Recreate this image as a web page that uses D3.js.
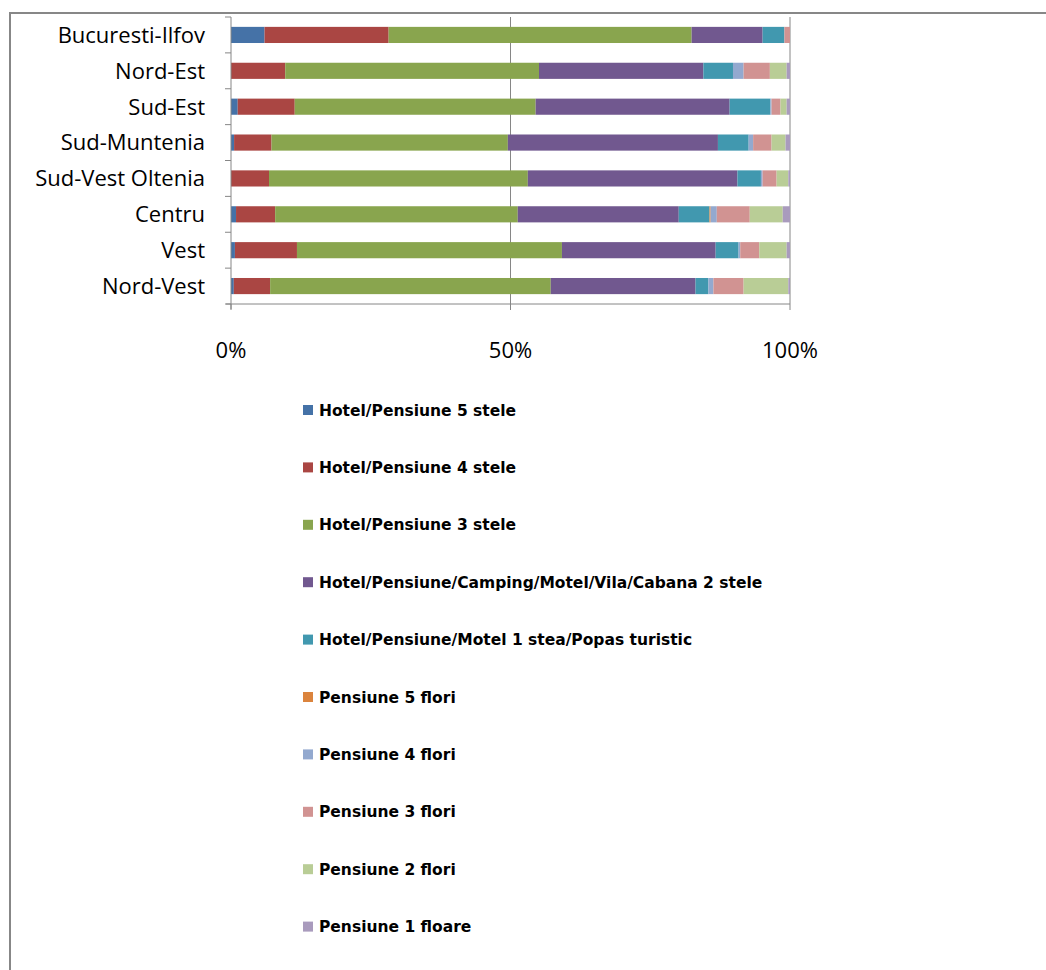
<!DOCTYPE html>
<html><head><meta charset="utf-8">
<script src="https://cdn.jsdelivr.net/npm/d3@7"></script>
<style>body{margin:0;background:#fff}svg{display:block}</style>
</head><body>
<script>
const categories = ["Bucuresti-Ilfov","Nord-Est","Sud-Est","Sud-Muntenia","Sud-Vest Oltenia","Centru","Vest","Nord-Vest"];
const seriesNames = ["Hotel/Pensiune 5 stele","Hotel/Pensiune 4 stele","Hotel/Pensiune 3 stele","Hotel/Pensiune/Camping/Motel/Vila/Cabana 2 stele","Hotel/Pensiune/Motel 1 stea/Popas turistic","Pensiune 5 flori","Pensiune 4 flori","Pensiune 3 flori","Pensiune 2 flori","Pensiune 1 floare"];
const colors = ["#4572A7","#AA4643","#89A54E","#71588F","#4198AF","#DB843D","#93A9CF","#D19392","#B9CD96","#A99BBD"];
// values per series, in order of categories (percent)
const s5stele  = [6.0, 0.0, 1.2, 0.55, 0.0, 0.9, 0.7, 0.5];
const s4stele  = [22.2, 9.7, 10.2, 6.7, 6.8, 7.0, 11.1, 6.5];
const s3stele  = [54.2, 45.4, 43.1, 42.3, 46.3, 43.4, 47.4, 50.2];
const s2stele  = [12.7, 29.4, 34.7, 37.6, 37.5, 28.8, 27.5, 25.9];
const s1stea   = [3.9, 5.3, 7.3, 5.5, 4.2, 5.5, 4.1, 2.3];
const s5flori  = [0.0, 0.0, 0.0, 0.0, 0.0, 0.2, 0.0, 0.0];
const s4flori  = [0.0, 1.9, 0.2, 0.8, 0.3, 1.1, 0.3, 0.9];
const s3flori  = [1.0, 4.7, 1.6, 3.3, 2.5, 5.9, 3.4, 5.4];
const s2flori  = [0.0, 3.0, 1.1, 2.5, 2.1, 5.9, 4.9, 8.0];
const s1floare = [0.0, 0.6, 0.6, 0.8, 0.3, 1.3, 0.6, 0.3];
const xTicks = [0, 0.5, 1];
const xTickLabels = ["0%","50%","100%"];

const allSeries = [s5stele,s4stele,s3stele,s2stele,s1stea,s5flori,s4flori,s3flori,s2flori,s1floare];
const rows = categories.map((c,i)=>{
  const o = {cat:c};
  const tot = d3.sum(allSeries, s=>s[i]);
  seriesNames.forEach((n,j)=>o[n]=allSeries[j][i]/tot);
  return o;
});
const stack = d3.stack().keys(seriesNames)(rows);

const W=1046,H=970;
const svg = d3.select("body").append("svg").attr("width",W).attr("height",H);
svg.append("rect").attr("x",10).attr("y",13).attr("width",W).attr("height",H)
  .attr("fill","#fff").attr("stroke","#878787").attr("stroke-width",2);

const x = d3.scaleLinear().domain([0,1]).range([231,790]);
const y = d3.scaleBand().domain(categories).range([17,304]).paddingInner(0.55).paddingOuter(0.275);

// gridlines
svg.append("g").selectAll("line").data([0.5,1]).join("line")
  .attr("x1",d=>x(d)).attr("x2",d=>x(d)).attr("y1",17).attr("y2",304)
  .attr("stroke","#868686").attr("stroke-width",1);

// bars
svg.append("g").selectAll("g").data(stack).join("g")
  .attr("fill",(d,i)=>colors[i])
  .selectAll("rect").data(d=>d).join("rect")
  .attr("x",d=>x(d[0])).attr("width",d=>Math.max(0,x(d[1])-x(d[0])))
  .attr("y",d=>y(d.data.cat)).attr("height",y.bandwidth());

// y axis
const yAxisLine = svg.append("g");
yAxisLine.append("line").attr("x1",231).attr("x2",231).attr("y1",17).attr("y2",309).attr("stroke","#868686");
const bounds = d3.range(categories.length+1).map(i=>17+i*(287/categories.length));
yAxisLine.selectAll("line.t").data(bounds).join("line").attr("class","t")
  .attr("x1",225).attr("x2",231).attr("y1",d=>d).attr("y2",d=>d).attr("stroke","#868686");
svg.append("g").selectAll("text").data(categories).join("text")
  .attr("x",205).attr("y",d=>y(d)+y.bandwidth()/2).attr("dy","0.36em")
  .attr("text-anchor","end").attr("font-family","Open Sans, sans-serif").attr("font-size",22).attr("fill","#000")
  .text(d=>d);

// x axis
svg.append("line").attr("x1",226).attr("x2",790).attr("y1",304).attr("y2",304).attr("stroke","#868686");
svg.append("g").selectAll("line").data(xTicks).join("line")
  .attr("x1",d=>x(d)).attr("x2",d=>x(d)).attr("y1",304).attr("y2",310).attr("stroke","#868686");
svg.append("g").selectAll("text").data(xTicks).join("text")
  .attr("x",d=>x(d)).attr("y",358).attr("text-anchor","middle")
  .attr("font-family","Open Sans, sans-serif").attr("font-size",22).attr("fill","#000")
  .text((d,i)=>xTickLabels[i]);

// legend
const lg = svg.append("g").selectAll("g").data(seriesNames).join("g")
  .attr("transform",(d,i)=>`translate(303,${410+i*57.4})`);
lg.append("rect").attr("x",0).attr("y",-5).attr("width",10).attr("height",10).attr("fill",(d,i)=>colors[i]);
lg.append("text").attr("x",16).attr("y",0).attr("dy","0.36em")
  .attr("font-family","DejaVu Sans, sans-serif").attr("font-weight","bold").attr("font-size",15.5).attr("fill","#000")
  .text(d=>d);
</script>
</body></html>
